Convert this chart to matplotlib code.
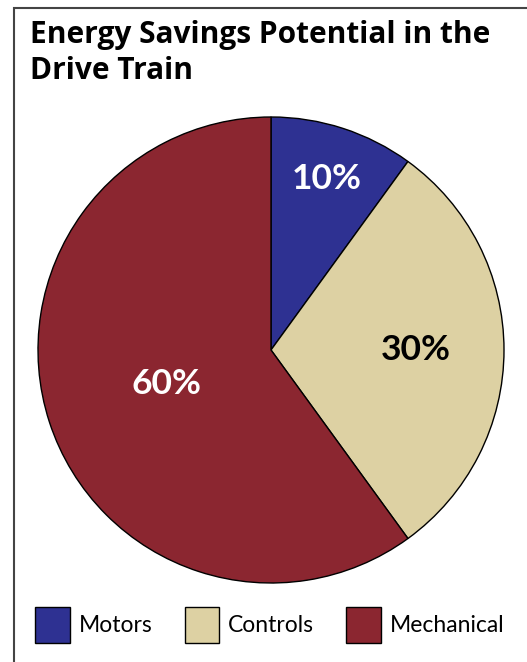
import matplotlib
matplotlib.use("Agg")
import matplotlib.pyplot as plt
import matplotlib.patches as mpatches
import numpy as np

title = "Energy Savings Potential in the\nDrive Train"
categories = ["Motors", "Controls", "Mechanical"]
values = [10, 30, 60]
colors = ["#2E3192", "#DDD1A3", "#8B2630"]
label_colors = ["white", "black", "white"]
label_radius = [0.77, 0.62, 0.47]

W, H = 527, 662
fig = plt.figure(figsize=(W / 100, H / 100), dpi=100)
fig.patch.set_facecolor("white")

# border (top and left visible, extends beyond right/bottom)
fig.patches.append(mpatches.Rectangle((14 / W, -0.1), 1.2, 1.1 - 8 / H,
                                      transform=fig.transFigure, fill=False,
                                      edgecolor="#444444", linewidth=1.5))

fig.text(30 / W, 1 - 20 / H, title, ha="left", va="top", fontsize=21.5,
         fontweight="bold", family="Open Sans", linespacing=1.25, color="black")

cx, cy, r = 271, 350, 233
ax = fig.add_axes([(cx - r) / W, (H - cy - r) / H, 2 * r / W, 2 * r / H])
wedges, _ = ax.pie(values, colors=colors, startangle=90, counterclock=False,
                   radius=1.0, wedgeprops=dict(edgecolor="black", linewidth=1.0))
ax.set_xlim(-1, 1)
ax.set_ylim(-1, 1)
ax.set_aspect("equal")
ax.axis("off")

for w, v, c, rr in zip(wedges, values, label_colors, label_radius):
    ang = np.deg2rad((w.theta1 + w.theta2) / 2)
    ax.text(rr * np.cos(ang), rr * np.sin(ang), f"{v}%", ha="center", va="center",
            fontsize=25.5, fontweight="bold", family="Lato", color=c)

handles = [mpatches.Patch(facecolor=c, edgecolor="black", linewidth=1.0, label=l)
           for c, l in zip(colors, categories)]
fig.legend(handles=handles, loc="lower left", bbox_to_anchor=(26 / W, 10 / H),
           ncol=3, frameon=False, prop=dict(family="Lato", size=16.5),
           handlelength=1.5, handleheight=2.05, handletextpad=0.4,
           columnspacing=1.4, borderaxespad=0)

fig.savefig("out.png", dpi=100)
